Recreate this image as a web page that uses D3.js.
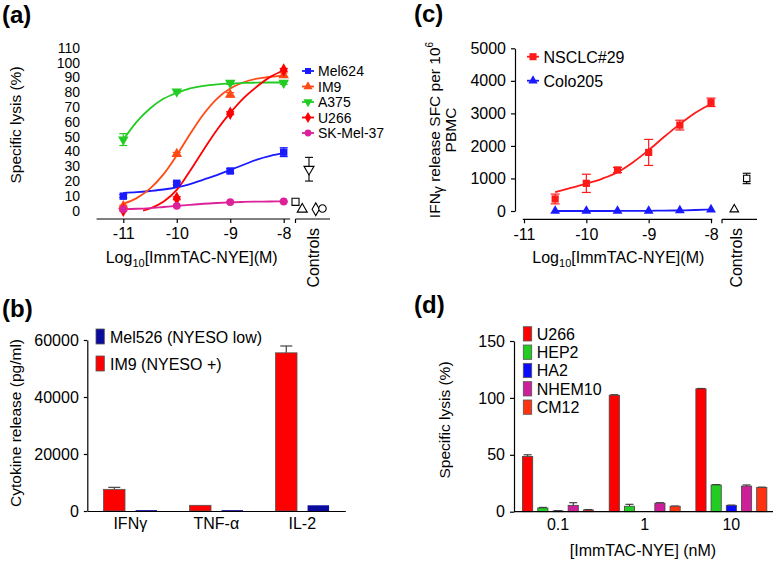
<!DOCTYPE html>
<html><head><meta charset="utf-8">
<script src="https://cdn.jsdelivr.net/npm/d3@7"></script>
<style>
html,body{margin:0;padding:0;background:#fff;}
svg{display:block;font-family:Arial,"Liberation Sans",Helvetica,sans-serif;}
</style></head>
<body><svg id="c" width="773" height="561"></svg>
<script>
// ---------- Panel (a) data ----------
const aDoses = [-11, -10, -9, -8];
const aSeriesNames = ["Mel624", "IM9", "A375", "U266", "SK-Mel-37"];
const aMel624 = [9.8, 18.5, 26.8, 39.5];
const aMel624Err = [1, 1, 1.5, 3];
const aIM9 = [3.2, 38.3, 78.2, 91.5];
const aIM9Err = [0.5, 1, 1.5, 1.5];
const aA375 = [48, 80.4, 86.3, 86.3];
const aA375Err = [4, 1, 1, 1];
const aU266 = [0.3, 8.4, 65.8, 95];
const aU266Err = [0.5, 1, 1, 1];
const aSKMel37 = [1, 3.3, 5.8, 6.2];
const aSKMel37Err = [0.3, 0.3, 0.3, 0.3];
// fitted curves
const aCurveX = [-11, -10.75, -10.5, -10.25, -10, -9.75, -9.5, -9.25, -9, -8.75, -8.5, -8.25, -8];
const aMel624Curve = [12, 12.5, 13.3, 14.3, 15.8, 18, 21, 24, 27.5, 31, 34.5, 37, 38.8];
const aIM9Curve = [4.7, 8.5, 14.9, 24.5, 37.4, 51.8, 65.1, 75.5, 82.4, 86.7, 89.1, 90.4, 91.2];
const aA375Curve = [48, 60, 69, 75.5, 79.5, 82.5, 84.3, 85.3, 85.9, 86.2, 86.4, 86.5, 86.5];
const aSKMel37Curve = [1, 1.3, 1.8, 2.5, 3.2, 4, 4.7, 5.2, 5.6, 5.9, 6.1, 6.2, 6.3];
const aU266CurveX = [-10.63, -10.5, -10.25, -10, -9.75, -9.5, -9.25, -9, -8.75, -8.5, -8.25, -8];
const aU266Curve = [0, 1.5, 6, 14, 27, 41, 54.5, 66, 76, 83.8, 90.3, 94.8];
const aYTicks = [0, 10, 20, 30, 40, 50, 60, 70, 80, 90, 100, 110];
const aControlVals = [6, 1, 28, 1, 1.5];
const aControlErr = [0, 0, 8, 0, 0];

// ---------- Panel (c) data ----------
const cDoses = [-10.5, -10, -9.5, -9, -8.5, -8];
const cSeriesNames = ["NSCLC#29", "Colo205"];
const cNSCLC = [370, 850, 1260, 1800, 2640, 3340];
const cNSCLCErr = [150, 280, 80, 400, 150, 130];
const cColo = [0, 0, 0, 5, 15, 45];
const cCurveX = [-10.5, -10.25, -10, -9.75, -9.5, -9.25, -9, -8.75, -8.5, -8.25, -8];
const cNSCLCCurve = [580, 710, 840, 990, 1190, 1500, 1870, 2280, 2670, 3020, 3290];
const cColoCurve = [0, 0, 0, 0, 1, 3, 6, 11, 19, 30, 45];
const cYTicks = [0, 1000, 2000, 3000, 4000, 5000];
const cXTicks = [-11, -10, -9, -8];
const cControlVals = [50, 1000];   // Colo205, NSCLC#29
const cControlErr = [0, 160];

// ---------- Panel (b) data ----------
const bCategories = ["IFNγ", "TNF-α", "IL-2"];
const bSeriesNames = ["Mel526 (NYESO low)", "IM9 (NYESO +)"];
const bIM9 = [7600, 2000, 55500];
const bIM9Err = [700, 0, 2400];
const bMel526 = [300, 300, 2000];
const bYTicks = [0, 20000, 40000, 60000];

// ---------- Panel (d) data ----------
const dCategories = ["0.1", "1", "10"];
const dSeriesNames = ["U266", "HEP2", "HA2", "NHEM10", "CM12"];
const dU266 = [48.5, 102.3, 108];
const dHEP2 = [3.3, 4.8, 23.5];
const dHA2 = [0.7, 0, 5.6];
const dNHEM10 = [5.6, 7.5, 22.5];
const dCM12 = [1.5, 4.8, 21.3];
const dU266Err = [1.5, 0.5, 0.3];
const dHEP2Err = [0.5, 1.7, 0.3];
const dHA2Err = [0.2, 0, 0.2];
const dNHEM10Err = [2.3, 0.4, 1];
const dCM12Err = [0.4, 0.2, 0.3];
const dYTicks = [0, 50, 100, 150];

// ---------- drawing ----------
const svg = d3.select("#c");
svg.append("rect").attr("width", 773).attr("height", 561).attr("fill", "#fff");
const FS = 16;
function axisStyle(g, fs) {
  g.selectAll("text").attr("font-size", fs || FS).attr("fill", "#000")
    .attr("font-family", 'Arial,"Liberation Sans",sans-serif');
  g.selectAll("line").attr("stroke", "#000").attr("stroke-width", 1.2);
  g.selectAll("path.domain").attr("stroke", "#000").attr("stroke-width", 1.2);
}
function panelLabel(x, y, t) {
  svg.append("text").attr("x", x).attr("y", y).attr("font-size", 24)
    .attr("font-weight", "bold").text(t);
}
function symbolFor(type, size) {
  return d3.symbol().type(type).size(size)();
}
panelLabel(2, 23, "(a)");
panelLabel(414, 22, "(c)");
panelLabel(2, 317, "(b)");
panelLabel(414, 313, "(d)");

// ======== Panel (a) ========
(function () {
  const x = d3.scaleLinear().domain([-11, -8]).range([123.3, 283.7]);
  const y = d3.scaleLinear().domain([0, 110]).range([210.7, 47.7]);
  const g = svg.append("g");
  const ya = g.append("g").attr("transform", "translate(88,0)")
    .call(d3.axisLeft(y).tickValues(aYTicks).tickSize(0).tickPadding(8).tickFormat(d => String(d)));
  ya.select(".domain").remove();
  axisStyle(ya, 14);
  const xa = g.append("g").attr("transform", "translate(0,219)")
    .call(d3.axisBottom(x).tickValues(aDoses).tickSize(4).tickPadding(5).tickSizeOuter(0).tickFormat(d => String(d)));
  xa.select(".domain").remove();
  axisStyle(xa, 16);
  g.append("line").attr("x1", x(-11.5)).attr("x2", x(-7.88)).attr("y1", 219).attr("y2", 219)
    .attr("stroke", "#000").attr("stroke-width", 1.2);
  const cx = d3.scalePoint().domain(aSeriesNames).range([295.5, 322.5]);
  g.append("line").attr("x1", 295.5).attr("x2", 330).attr("y1", 219).attr("y2", 219).attr("stroke", "#000").attr("stroke-width", 1.2);
  g.append("line").attr("x1", 295.5).attr("x2", 295.5).attr("y1", 219).attr("y2", 223).attr("stroke", "#000").attr("stroke-width", 1.2);

  const series = [
    { name: "Mel624", vals: aMel624, err: aMel624Err, cx: aCurveX, cy: aMel624Curve, color: "#1a1aff", sym: d3.symbolSquare, size: 55, rot: 0 },
    { name: "IM9", vals: aIM9, err: aIM9Err, cx: aCurveX, cy: aIM9Curve, color: "#ff4a14", sym: d3.symbolTriangle, size: 48, rot: 0 },
    { name: "A375", vals: aA375, err: aA375Err, cx: aCurveX, cy: aA375Curve, color: "#22cc22", sym: d3.symbolTriangle, size: 48, rot: 180 },
    { name: "U266", vals: aU266, err: aU266Err, cx: aU266CurveX, cy: aU266Curve, color: "#ff0000", sym: d3.symbolDiamond, size: 52, rot: 0 },
    { name: "SK-Mel-37", vals: aSKMel37, err: aSKMel37Err, cx: aCurveX, cy: aSKMel37Curve, color: "#dd2299", sym: d3.symbolCircle, size: 48, rot: 0 }
  ];
  const line = d3.line().x(d => x(d[0])).y(d => y(d[1])).curve(d3.curveMonotoneX);
  series.forEach(s => {
    g.append("path").attr("d", line(d3.zip(s.cx, s.cy))).attr("fill", "none")
      .attr("stroke", s.color).attr("stroke-width", 1.8);
  });
  series.forEach(s => {
    aDoses.forEach((dx, i) => {
      const v = s.vals[i], e = s.err[i];
      const px = x(dx);
      g.append("line").attr("x1", px).attr("x2", px).attr("y1", y(v - e)).attr("y2", y(v + e)).attr("stroke", s.color).attr("stroke-width", 1.2);
      [v - e, v + e].forEach(t => g.append("line").attr("x1", px - 4).attr("x2", px + 4).attr("y1", y(t)).attr("y2", y(t)).attr("stroke", s.color).attr("stroke-width", 1.2));
      g.append("path").attr("d", symbolFor(s.sym, s.size))
        .attr("transform", `translate(${px},${y(v)}) rotate(${s.rot})`).attr("fill", s.color);
    });
  });
  series.forEach((s, i) => {
    const v = aControlVals[i], e = aControlErr[i], px = cx(s.name);
    if (e > 0) {
      g.append("line").attr("x1", px).attr("x2", px).attr("y1", y(v - e)).attr("y2", y(v + e)).attr("stroke", "#000").attr("stroke-width", 1.1);
      [v - e, v + e].forEach(t => g.append("line").attr("x1", px - 4).attr("x2", px + 4).attr("y1", y(t)).attr("y2", y(t)).attr("stroke", "#000").attr("stroke-width", 1.1));
    }
    g.append("path").attr("d", symbolFor(s.sym, s.size * 0.9))
      .attr("transform", `translate(${px},${y(v)}) rotate(${s.rot})`)
      .attr("fill", "#fff").attr("stroke", "#000").attr("stroke-width", 1.1);
  });
  const leg = d3.scalePoint().domain(aSeriesNames).range([71, 133]);
  series.forEach(s => {
    const ly = leg(s.name);
    g.append("line").attr("x1", 302).attr("x2", 314).attr("y1", ly).attr("y2", ly).attr("stroke", s.color).attr("stroke-width", 1.8);
    g.append("path").attr("d", symbolFor(s.sym, 36)).attr("transform", `translate(308,${ly}) rotate(${s.rot})`).attr("fill", s.color);
    g.append("text").attr("x", 318).attr("y", ly + 5).attr("font-size", 14).text(s.name);
  });
  g.append("text").attr("transform", "translate(21,125) rotate(-90)").attr("text-anchor", "middle")
    .attr("font-size", 15.5).text("Specific lysis (%)");
  const xl = g.append("text").attr("x", 191.7).attr("y", 263).attr("text-anchor", "middle").attr("font-size", 16);
  xl.append("tspan").text("Log");
  xl.append("tspan").attr("font-size", 11).attr("dy", 4).text("10");
  xl.append("tspan").attr("dy", -4).text("[ImmTAC-NYE](M)");
  g.append("text").attr("transform", "translate(318.5,228) rotate(-90)").attr("text-anchor", "end")
    .attr("font-size", 16).text("Controls");
})();

// ======== Panel (c) ========
(function () {
  const x = d3.scaleLinear().domain([-11, -8]).range([524, 711]);
  const y = d3.scaleLinear().domain([0, 5000]).range([211, 48.3]);
  const g = svg.append("g");
  const ya = g.append("g").attr("transform", "translate(515,0)")
    .call(d3.axisLeft(y).tickValues(cYTicks).tickSize(4).tickPadding(5).tickSizeOuter(0).tickFormat(d => String(d)));
  axisStyle(ya, 16);
  const xa = g.append("g").attr("transform", "translate(0,219.3)")
    .call(d3.axisBottom(x).tickValues(cXTicks).tickSize(4).tickPadding(5).tickSizeOuter(0).tickFormat(d => String(d)));
  xa.select(".domain").remove();
  axisStyle(xa, 16);
  g.append("line").attr("x1", x(-11.02)).attr("x2", x(-7.98)).attr("y1", 219.3).attr("y2", 219.3).attr("stroke", "#000").attr("stroke-width", 1.2);
  g.append("line").attr("x1", 722).attr("x2", 757).attr("y1", 219.3).attr("y2", 219.3).attr("stroke", "#000").attr("stroke-width", 1.2);
  g.append("line").attr("x1", 722).attr("x2", 722).attr("y1", 219.3).attr("y2", 223.3).attr("stroke", "#000").attr("stroke-width", 1.2);

  const series = [
    { name: "NSCLC#29", vals: cNSCLC, err: cNSCLCErr, cy: cNSCLCCurve, color: "#ff1a1a", sym: d3.symbolSquare, size: 52 },
    { name: "Colo205", vals: cColo, err: cColo.map(() => 0), cy: cColoCurve, color: "#1a1aff", sym: d3.symbolTriangle, size: 42 }
  ];
  const line = d3.line().x(d => x(d[0])).y(d => y(d[1])).curve(d3.curveMonotoneX);
  series.forEach(s => {
    g.append("path").attr("d", line(d3.zip(cCurveX, s.cy))).attr("fill", "none").attr("stroke", s.color).attr("stroke-width", 1.8);
    cDoses.forEach((dx, i) => {
      const v = s.vals[i], e = s.err[i], px = x(dx);
      if (e > 0) {
        g.append("line").attr("x1", px).attr("x2", px).attr("y1", y(v - e)).attr("y2", y(v + e)).attr("stroke", s.color).attr("stroke-width", 1.2);
        [v - e, v + e].forEach(t => g.append("line").attr("x1", px - 4.5).attr("x2", px + 4.5).attr("y1", y(t)).attr("y2", y(t)).attr("stroke", s.color).attr("stroke-width", 1.2));
      }
      g.append("path").attr("d", symbolFor(s.sym, s.size)).attr("transform", `translate(${px},${y(v)})`).attr("fill", s.color);
    });
  });
  const cxs = d3.scalePoint().domain(["Colo205", "NSCLC#29"]).range([734.3, 746.7]);
  [["Colo205", d3.symbolTriangle, 0], ["NSCLC#29", d3.symbolSquare, 1]].forEach(([n, sym, i]) => {
    const v = cControlVals[i], e = cControlErr[i], px = cxs(n);
    if (e > 0) {
      g.append("line").attr("x1", px).attr("x2", px).attr("y1", y(v - e)).attr("y2", y(v + e)).attr("stroke", "#000").attr("stroke-width", 1.1);
      [v - e, v + e].forEach(t => g.append("line").attr("x1", px - 4).attr("x2", px + 4).attr("y1", y(t)).attr("y2", y(t)).attr("stroke", "#000").attr("stroke-width", 1.1));
    }
    g.append("path").attr("d", symbolFor(sym, i ? 40 : 32)).attr("transform", `translate(${px},${y(v)})`)
      .attr("fill", "#fff").attr("stroke", "#000").attr("stroke-width", 1.1);
  });
  const leg = d3.scalePoint().domain(cSeriesNames).range([56.7, 80.7]);
  series.forEach(s => {
    const ly = leg(s.name);
    g.append("line").attr("x1", 527).attr("x2", 539).attr("y1", ly).attr("y2", ly).attr("stroke", s.color).attr("stroke-width", 1.8);
    g.append("path").attr("d", symbolFor(s.sym, s.sym === d3.symbolSquare ? 50 : 38)).attr("transform", `translate(533,${ly})`).attr("fill", s.color);
    g.append("text").attr("x", 543.5).attr("y", ly + 6).attr("font-size", 16).text(s.name);
  });
  const yl = g.append("text").attr("transform", "translate(440,130) rotate(-90)").attr("text-anchor", "middle").attr("font-size", 15.5);
  yl.append("tspan").text("IFN");
  yl.append("tspan").text("γ").attr("font-size", 14).attr("dy", 3);
  yl.append("tspan").attr("dy", -3).text(" release SFC per 10");
  yl.append("tspan").attr("font-size", 10).attr("dy", -7).text("6");
  g.append("text").attr("transform", "translate(456,130) rotate(-90)").attr("text-anchor", "middle").attr("font-size", 15.5).text("PBMC");
  const xl = g.append("text").attr("x", 618.3).attr("y", 263).attr("text-anchor", "middle").attr("font-size", 16);
  xl.append("tspan").text("Log");
  xl.append("tspan").attr("font-size", 11).attr("dy", 4).text("10");
  xl.append("tspan").attr("dy", -4).text("[ImmTAC-NYE](M)");
  g.append("text").attr("transform", "translate(742,228) rotate(-90)").attr("text-anchor", "end").attr("font-size", 16).text("Controls");
})();

// ======== Panel (b) ========
(function () {
  const x = d3.scaleBand().domain(bCategories).range([87.3, 345.3]);
  const xs = d3.scaleBand().domain(["IM9", "Mel526"]).range([-26.75, 26.75]).paddingInner(0.33);
  const y = d3.scaleLinear().domain([0, 60000]).range([511, 340]);
  const g = svg.append("g");
  const colors = { IM9: "#ff0000", Mel526: "#0a0a9e" };
  const data = { IM9: bIM9, Mel526: bMel526 };
  const errs = { IM9: bIM9Err, Mel526: bMel526.map(() => 0) };
  bCategories.forEach((c, i) => {
    const center = x(c) + x.bandwidth() / 2;
    ["IM9", "Mel526"].forEach(sn => {
      const v = data[sn][i], e = errs[sn][i];
      const bx = center + xs(sn);
      if (e > 0) {
        g.append("line").attr("x1", bx + xs.bandwidth() / 2).attr("x2", bx + xs.bandwidth() / 2).attr("y1", y(v)).attr("y2", y(v + e)).attr("stroke", "#444").attr("stroke-width", 1.2);
        g.append("line").attr("x1", bx + xs.bandwidth() / 2 - 6).attr("x2", bx + xs.bandwidth() / 2 + 6).attr("y1", y(v + e)).attr("y2", y(v + e)).attr("stroke", "#444").attr("stroke-width", 1.2);
      }
      g.append("rect").attr("x", bx).attr("width", xs.bandwidth()).attr("y", y(v)).attr("height", y(0) - y(v))
        .attr("fill", colors[sn]).attr("stroke", sn === "IM9" ? "#555" : "none").attr("stroke-width", 0.8);
    });
  });
  const ya = g.append("g").attr("transform", "translate(87.3,0)")
    .call(d3.axisLeft(y).tickValues(bYTicks).tickSize(3.5).tickPadding(5).tickSizeOuter(0).tickFormat(d => String(d)));
  axisStyle(ya, 16);
  const xa = g.append("g").attr("transform", "translate(0,511)")
    .call(d3.axisBottom(x).tickSize(0).tickPadding(7).tickSizeOuter(0));
  axisStyle(xa, 16);
  const leg = d3.scalePoint().domain(bSeriesNames).range([336.5, 363.5]);
  [["Mel526", bSeriesNames[0]], ["IM9", bSeriesNames[1]]].forEach(([k, label]) => {
    const ly = leg(label);
    g.append("rect").attr("x", 96).attr("y", ly - 7.5).attr("width", 8.3).attr("height", 15)
      .attr("fill", colors[k]).attr("stroke", "#555").attr("stroke-width", 0.8);
    g.append("text").attr("x", 110).attr("y", ly + 6).attr("font-size", 16).text(label);
  });
  g.append("text").attr("transform", "translate(21,423) rotate(-90)").attr("text-anchor", "middle").attr("font-size", 15.5).text("Cytokine release (pg/ml)");
})();

// ======== Panel (d) ========
(function () {
  const x = d3.scaleBand().domain(dCategories).range([514.7, 774.7]);
  const xs = d3.scaleBand().domain(dSeriesNames).range([-35.5, 35.5]).paddingInner(0.33);
  const y = d3.scaleLinear().domain([0, 150]).range([511.7, 341]);
  const g = svg.append("g");
  const colors = { U266: "#ff0000", HEP2: "#22cc22", HA2: "#0a0aff", NHEM10: "#cc1f99", CM12: "#ff3310" };
  const vals = { U266: dU266, HEP2: dHEP2, HA2: dHA2, NHEM10: dNHEM10, CM12: dCM12 };
  const errs = { U266: dU266Err, HEP2: dHEP2Err, HA2: dHA2Err, NHEM10: dNHEM10Err, CM12: dCM12Err };
  dCategories.forEach((c, i) => {
    const center = x(c) + x.bandwidth() / 2;
    dSeriesNames.forEach(sn => {
      const v = vals[sn][i], e = errs[sn][i];
      const bx = center + xs(sn), bw = xs.bandwidth();
      if (v <= 0) return;
      if (e > 0) {
        g.append("line").attr("x1", bx + bw / 2).attr("x2", bx + bw / 2).attr("y1", y(v)).attr("y2", y(v + e)).attr("stroke", "#333").attr("stroke-width", 1.1);
        g.append("line").attr("x1", bx + bw / 2 - 4).attr("x2", bx + bw / 2 + 4).attr("y1", y(v + e)).attr("y2", y(v + e)).attr("stroke", "#333").attr("stroke-width", 1.1);
      }
      g.append("rect").attr("x", bx).attr("width", bw).attr("y", y(v)).attr("height", y(0) - y(v))
        .attr("fill", colors[sn]).attr("stroke", "#444").attr("stroke-width", 0.8);
    });
  });
  const ya = g.append("g").attr("transform", "translate(514,0)")
    .call(d3.axisLeft(y).tickValues(dYTicks).tickSize(4).tickPadding(5).tickSizeOuter(0).tickFormat(d => String(d)));
  axisStyle(ya, 16);
  const xa = g.append("g").attr("transform", "translate(0,511.7)")
    .call(d3.axisBottom(x).tickSize(0).tickPadding(7).tickSizeOuter(0));
  xa.select(".domain").attr("d", "M514,0H773");
  axisStyle(xa, 16);
  const leg = d3.scalePoint().domain(dSeriesNames).range([326.7, 400]);
  dSeriesNames.forEach(sn => {
    const ty = leg(sn);
    g.append("rect").attr("x", 523.3).attr("y", ty).attr("width", 8.4).attr("height", 14.3)
      .attr("fill", colors[sn]).attr("stroke", "#555").attr("stroke-width", 0.8);
    g.append("text").attr("x", 536.7).attr("y", ty + 13).attr("font-size", 16).text(sn);
  });
  g.append("text").attr("transform", "translate(450,420) rotate(-90)").attr("text-anchor", "middle").attr("font-size", 15.5).text("Specific lysis (%)");
  g.append("text").attr("x", 643).attr("y", 556).attr("text-anchor", "middle").attr("font-size", 16).text("[ImmTAC-NYE] (nM)");
})();
</script></body></html>
